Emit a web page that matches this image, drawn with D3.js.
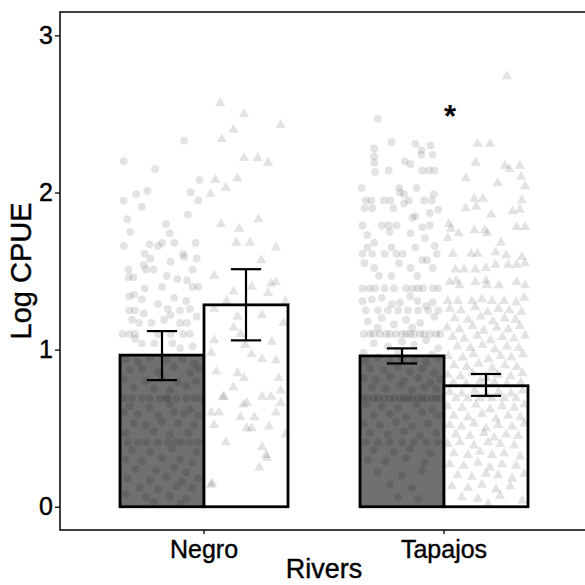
<!DOCTYPE html>
<html>
<head>
<meta charset="utf-8">
<script src="https://cdn.jsdelivr.net/npm/d3@7"></script>
<style>
body { margin: 0; background: #fff; }
svg { display: block; font-family: "Liberation Sans", Arial, sans-serif; }
</style>
</head>
<body>
<div id="chart"></div>
<script>
// rivers on the x axis, two groups per river (circles / dark bar, triangles / white bar)
var rivers = ["Negro", "Tapajos"];
var groups = ["A", "B"];
var barColors = ["#707070", "#ffffff"];
var shapes = [d3.symbolCircle, d3.symbolTriangle];

// mean Log CPUE, then lower / upper end of the error bars (per river, per group)
var means = [[0.965, 1.285], [0.96, 0.77]];
var errLow = [[0.806, 1.059], [0.912, 0.706]];
var errHigh = [[1.118, 1.512], [1.008, 0.845]];

var yTicks = [0, 1, 2, 3];
var star = { river: "Tapajos", value: 2.5, label: "*" };

// raw points: [jitter (-1..1 inside the group slot), Log CPUE]
var negroA = [
  [-.95,2.20],[-.17,2.15],[.55,2.33],[-.95,1.95],[-.64,1.99],[-.36,2.01],[-.5,1.91],[.93,2.08],[.71,2.00],[.9,1.95],
  [.64,1.86],[-.86,1.83],[-.79,1.75],[.1,1.80],[.19,1.74],[-.95,1.66],[-.31,1.67],[-.1,1.66],[0,1.68],[.31,1.68],
  [.83,1.68],[-.43,1.61],[-.29,1.58],[.52,1.61],[.55,1.59],[.21,1.56],[.86,1.58],[-.45,1.54],[-.83,1.51],[-.4,1.51],
  [-.21,1.51],[.76,1.51],[-.83,1.46],[-.71,1.46],[.12,1.47],[.38,1.45],[.62,1.44],[0,1.40],[-.43,1.39],[.76,1.40],
  [.9,1.40],[-.81,1.34],[-.69,1.35],[-.5,1.32],[.3,1.33],[.6,1.31],
  [-.81,1.25],[-.67,1.25],[-.45,1.23],[-.1,1.29],[.14,1.26],[.21,1.22],[.45,1.25],[.69,1.26],[.86,1.21],[-.74,1.19],
  [-.57,1.17],[-.26,1.17],[.05,1.19],[.45,1.17],[.62,1.17],[-.98,1.10],[-.81,1.10],[-.67,1.10],[-.1,1.10],[.21,1.10],
  [.52,1.10],[.69,1.10],[-.5,1.04],[-.19,1.04],[.26,1.04],[.76,1.02],[-.67,1.07],[.45,1.01],
  [-.9,.94],[-.6,.92],[-.3,.95],[.1,.93],[.5,.94],[.8,.91],[-.8,.87],[-.5,.88],[-.1,.86],[.3,.89],[.7,.85],[.9,.88],
  [-.95,.81],[-.4,.80],[0,.82],[.4,.79],[.85,.80],[-.7,.76],[-.2,.75],[.2,.74],[.6,.77],
  [-.95,.69],[-.75,.69],[-.5,.69],[-.3,.69],[-.05,.69],[.1,.69],[.15,.69],[.35,.69],[.6,.69],[.8,.69],[.95,.69],
  [-.8,.64],[-.3,.63],[.2,.65],[.7,.62],[-.95,.60],[-.6,.59],[-.1,.58],[.3,.60],[.55,.59],[.9,.58],
  [-.7,.53],[-.4,.52],[0,.54],[.4,.53],[.8,.52],[-.9,.47],[-.2,.48],[.2,.46],[.65,.47],
  [-.85,.41],[-.6,.41],[-.4,.41],[-.1,.41],[.15,.41],[.35,.41],[.5,.41],[.7,.41],[.9,.41],
  [-.75,.36],[-.3,.35],[.25,.37],[.85,.35],[-.9,.30],[-.5,.29],[0,.31],[.45,.30],[.75,.28],
  [-.65,.24],[-.15,.23],[.3,.25],[.6,.22],[-.85,.18],[-.3,.17],[.1,.19],[.5,.16],[.9,.18],
  [-.55,.12],[-.1,.11],[.35,.13],[.75,.12],[-.9,.08],[-.4,.06],[.2,.07],[.6,.05],[-.2,.03],[.45,.02]
];
var negroB = [
  [-.64,2.57],[-.05,2.50],[.86,2.43],[-.31,2.40],[-.6,2.34],[-.05,2.22],[.29,2.22],[.55,2.19],[-.76,2.08],[-.21,2.09],
  [-.5,2.03],[-.88,1.99],[-.62,1.80],[-.17,1.77],[.31,1.83],[-.24,1.68],[.1,1.68],[.74,1.65],[.38,1.57],[-.79,1.47],
  [.14,1.40],[.62,1.42],[.74,1.43],[-.31,1.37],[.55,1.36],[.98,1.31],[-.48,1.31],[-.79,1.26],[-.21,1.21],[.4,1.22],
  [-.31,1.14],[-.14,1.10],[-.79,1.06],[.64,1.05],[.93,1.17],[-.02,1.03],[.14,.97],[.4,.94],[.74,.93],[-.86,.98],
  [-.74,.86],[-.21,.85],[-.05,.82],[-.31,.76],[.81,.82],[.86,.74],[-.57,.70],[-.55,.70],[.4,.70],[.62,.70],
  [-.07,.65],[.02,.66],[.86,.66],[-.86,.60],[-.67,.60],[-.14,.57],[.21,.57],[.74,.60],[-.79,.52],[.02,.50],
  [.14,.50],[.57,.51],[.98,.46],[-.5,.41],[.4,.38],[.5,.33],[.52,.31],[.33,.25],[-.86,.14],[-.84,.15]
];
var tapajosA = [
  [-.6,2.47],[-.69,2.28],[-.26,2.32],[.33,2.31],[.71,2.30],[.48,2.27],[-.69,2.23],[-.69,2.19],[-.67,2.13],[-.33,2.14],
  [.07,2.20],[.21,2.18],[.48,2.24],[.76,2.24],[.5,2.14],[.67,2.14],[.81,2.14],[-1,2.03],[-.07,2.03],[-.05,2.00],
  [.05,1.99],[.36,2.03],[.79,1.99],[-.9,1.95],[-.76,1.95],[-.45,1.95],[-.29,1.95],[.17,1.95],[.55,1.95],[.74,1.95],
  [-.93,1.90],[-.74,1.90],[-.21,1.90],[.05,1.93],[.69,1.87],[.9,1.89],[.26,1.84],[.33,1.85],[-.98,1.79],[-.5,1.79],
  [-.33,1.79],[-.14,1.79],[.5,1.78],[.69,1.79],[-.86,1.73],[-.31,1.75],[.21,1.74],[.57,1.71],[-.86,1.65],[-.69,1.68],
  [-.26,1.65],[.33,1.65],[.81,1.66],[-.98,1.61],[-.74,1.61],[-.43,1.61],[-.14,1.61],[.02,1.61],[.86,1.61],[.5,1.57],
  [.62,1.57],[-.93,1.55],[-.69,1.52],[-.07,1.55],[.21,1.52],[.76,1.52],[-.57,1.47],[-.26,1.47],[.38,1.47],
  [-.98,1.39],[-.81,1.39],[-.67,1.39],[-.43,1.39],[.1,1.39],[.26,1.39],[.4,1.39],[.52,1.39],[.76,1.39],[-.2,1.39],[.9,1.39],
  [-.98,1.31],[-.05,1.30],[.38,1.31],[.76,1.30],[-.5,1.33],[.2,1.34],
  [-.9,1.25],[-.6,1.25],[-.35,1.25],[-.1,1.25],[.15,1.25],[.4,1.25],[.65,1.25],[.9,1.25],
  [-.95,1.10],[-.8,1.10],[-.7,1.10],[-.55,1.10],[-.4,1.10],[-.3,1.10],[-.15,1.10],[0,1.10],[.1,1.10],[.2,1.10],
  [.3,1.10],[.45,1.10],[.55,1.10],[.7,1.10],[.85,1.10],[.95,1.10],
  [-.85,1.18],[-.5,1.20],[-.2,1.16],[.1,1.19],[.45,1.17],[.8,1.21],[-.7,1.04],[-.35,1.02],[0,1.05],[.3,1.03],
  [.6,1.06],[.9,1.01],[-.95,.98],[-.1,.99],[.75,.97],[-.6,1.14],[.25,1.14],[.6,1.28],[-.25,1.29],[-.75,1.32],
  [-.9,.93],[-.6,.95],[-.3,.92],[0,.94],[.3,.93],[.6,.92],[.9,.95],[-.8,.88],[-.45,.87],[-.1,.89],
  [.2,.86],[.5,.88],[.8,.85],[-.95,.82],[-.65,.81],[-.3,.83],[.05,.80],[.4,.82],[.7,.79],[.95,.81],
  [-.75,.76],[-.4,.75],[-.05,.77],[.25,.74],[.55,.76],[.85,.75],
  [-.98,.69],[-.85,.69],[-.7,.69],[-.6,.69],[-.45,.69],[-.3,.69],[-.2,.69],[-.05,.69],[.05,.69],[.15,.69],
  [.25,.69],[.4,.69],[.5,.69],[.6,.69],[.75,.69],[.85,.69],[.95,.69],
  [-.9,.65],[-.5,.64],[-.1,.63],[.35,.65],[.75,.62],[-.7,.58],[-.3,.59],[.1,.57],[.5,.60],[.9,.58],
  [-.95,.53],[-.55,.52],[-.15,.54],[.25,.51],[.65,.53],[-.8,.47],[-.35,.46],[.05,.48],[.45,.45],[.85,.47],
  [-.9,.41],[-.6,.41],[-.3,.41],[0,.41],[.3,.41],[.6,.41],[.9,.41],
  [-.7,.36],[-.2,.35],[.2,.37],[.7,.34],[-.85,.30],[-.4,.29],[.1,.31],[.55,.28],
  [-.6,.22],[0,.20],[.5,.23],[-.3,.14],[.25,.12],[-.1,.06],[.4,.05]
];
var tapajosB = [
  [.52,2.74],[-.21,2.31],[.1,2.31],[-.26,2.19],[-.5,2.09],[.47,2.17],[.58,2.15],[.84,2.17],[.29,2.06],[.87,2.10],
  [.97,2.04],[-.29,1.96],[-.08,1.96],[-.5,1.90],[-.24,1.91],[.13,1.86],[.66,1.88],[.89,1.95],[.84,1.89],[-.92,1.80],
  [-.87,1.77],[-.68,1.74],[-.29,1.76],[-.03,1.76],[.03,1.74],[.37,1.68],[.76,1.78],[.97,1.78],[-.95,1.71],[-.82,1.61],
  [-.37,1.61],[-.21,1.61],[.24,1.62],[.5,1.60],[.89,1.59],[-.76,1.51],[-.55,1.51],[-.26,1.51],[0,1.52],[.24,1.54],
  [.55,1.54],[.76,1.54],[.97,1.55],[-.9,1.43],[-.74,1.44],[-.66,1.41],[-.26,1.43],[0,1.44],[.02,1.41],[.32,1.41],
  [.76,1.43],[.97,1.41],[-.95,1.31],[-.7,1.31],[-.35,1.31],[-.1,1.32],[.15,1.31],[.45,1.31],[.75,1.30],[.95,1.33],
  [-.9,1.26],[-.62,1.25],[-.27,1.27],[.04,1.24],[.31,1.26],[.58,1.25],[.88,1.24],
  [-.78,1.20],[-.45,1.19],[-.13,1.21],[.17,1.18],[.46,1.20],[.73,1.19],
  [-.96,1.14],[-.66,1.13],[-.33,1.15],[-.06,1.12],[.27,1.14],[.55,1.13],[.84,1.15],
  [-.83,1.08],[-.54,1.07],[-.22,1.09],[.11,1.06],[.41,1.08],[.69,1.07],[.97,1.09],
  [-.71,1.02],[-.38,1.01],[-.09,1.03],[.22,1.00],[.52,1.02],[.81,1.01],
  [-.94,.96],[-.58,.95],[-.31,.97],[.06,.94],[.36,.96],[.63,.95],[.92,.97],
  [-.79,.90],[-.48,.89],[-.18,.91],[.16,.88],[.47,.90],[.76,.89],
  [-.95,.84],[-.63,.83],[-.34,.85],[.01,.82],[.29,.84],[.61,.83],[.9,.85],
  [-.81,.79],[-.49,.78],[-.14,.80],[.21,.79],[.52,.78],[.86,.79],
  [-.9,.73],[-.6,.72],[-.28,.74],[.02,.71],[.31,.73],[.62,.72],[.91,.74],
  [-.75,.69],[-.45,.69],[-.15,.69],[.15,.69],[.45,.69],[.75,.69],
  [-.95,.64],[-.59,.63],[-.25,.65],[.1,.62],[.4,.64],[.7,.63],[.95,.65],
  [-.8,.58],[-.44,.57],[-.1,.59],[.25,.56],[.55,.58],[.85,.57],
  [-.9,.52],[-.61,.51],[-.3,.53],[0,.50],[.3,.52],[.65,.51],[.95,.53],
  [-.75,.46],[-.4,.45],[-.05,.47],[.2,.44],[.5,.46],[.8,.45],
  [-.95,.40],[-.65,.41],[-.3,.39],[.05,.41],[.35,.40],[.7,.39],
  [-.8,.34],[-.45,.33],[-.15,.35],[.15,.33],[.45,.34],[.85,.32],
  [-.9,.27],[-.55,.26],[-.2,.28],[.1,.25],[.4,.27],[.75,.26],
  [-.7,.20],[-.35,.19],[0,.21],[.3,.20],[.65,.18],[.95,.21],
  [-.85,.13],[-.45,.12],[-.1,.14],[.25,.11],[.6,.13],
  [-.6,.06],[-.2,.05],[.35,.07],[.9,.04],[.05,.02]
];
var points = [[negroA, negroB], [tapajosA, tapajosB]];

var width = 585, height = 585;
var margin = { top: 12, right: -3, bottom: 55, left: 60 };

var svg = d3.select("#chart").append("svg")
    .attr("width", width)
    .attr("height", height);

var x = d3.scaleBand()
    .domain(rivers)
    .range([margin.left, width - margin.right])
    .paddingInner(0)
    .paddingOuter(0.1);

var sub = d3.scaleBand()
    .domain(groups)
    .range([x.bandwidth() * 0.15, x.bandwidth() * 0.85]);

var y = d3.scaleLinear()
    .domain([-0.148, 3.149])
    .range([height - margin.bottom, margin.top]);

// build one row per river/group
var rows = [];
rivers.forEach(function(r, i) {
    groups.forEach(function(g, k) {
        rows.push({ river: r, group: g, k: k, mean: means[i][k], lo: errLow[i][k], hi: errHigh[i][k], pts: points[i][k] });
    });
});

function slotCenter(d) { return x(d.river) + sub(d.group) + sub.bandwidth() / 2; }

// bars
svg.append("g").selectAll("rect")
    .data(rows)
    .enter().append("rect")
    .attr("x", function(d) { return x(d.river) + sub(d.group); })
    .attr("y", function(d) { return y(d.mean); })
    .attr("width", sub.bandwidth())
    .attr("height", function(d) { return y(0) - y(d.mean); })
    .attr("fill", function(d) { return barColors[d.k]; })
    .attr("stroke", "#000")
    .attr("stroke-width", 2.8);

// jittered raw points
rows.forEach(function(d) {
    var sym = d3.symbol().type(shapes[d.k]).size(d.k === 0 ? 48 : 46);
    svg.append("g").selectAll("path")
        .data(d.pts)
        .enter().append("path")
        .attr("d", sym)
        .attr("transform", function(p) {
            var cx = slotCenter(d) + p[0] * sub.bandwidth() * 0.48;
            return "translate(" + cx + "," + y(p[1]) + ")";
        })
        .attr("fill", "#000")
        .attr("fill-opacity", 0.11);
});

// error bars
var cap = sub.bandwidth() * 0.18;
var eb = svg.append("g").attr("stroke", "#000").attr("stroke-width", 2.2);
rows.forEach(function(d) {
    var cx = slotCenter(d);
    eb.append("line").attr("x1", cx).attr("x2", cx).attr("y1", y(d.lo)).attr("y2", y(d.hi));
    eb.append("line").attr("x1", cx - cap).attr("x2", cx + cap).attr("y1", y(d.lo)).attr("y2", y(d.lo));
    eb.append("line").attr("x1", cx - cap).attr("x2", cx + cap).attr("y1", y(d.hi)).attr("y2", y(d.hi));
});

// significance mark
svg.append("text")
    .attr("x", x(star.river) + x.bandwidth() / 2 + 6)
    .attr("y", y(star.value) + 13)
    .attr("text-anchor", "middle")
    .style("font-size", "31px")
    .style("font-weight", "bold")
    .text(star.label);

// panel border
svg.append("rect")
    .attr("x", margin.left)
    .attr("y", margin.top)
    .attr("width", width - margin.right - margin.left)
    .attr("height", y.range()[0] - margin.top)
    .attr("fill", "none")
    .attr("stroke", "#000")
    .attr("stroke-width", 1.5);

// axes
var yAxis = svg.append("g")
    .attr("transform", "translate(" + margin.left + ",0)")
    .call(d3.axisLeft(y).tickValues(yTicks).tickSize(5).tickPadding(2).tickFormat(d3.format("d")));
var xAxis = svg.append("g")
    .attr("transform", "translate(0," + y.range()[0] + ")")
    .call(d3.axisBottom(x).tickSize(4).tickPadding(6));
[yAxis, xAxis].forEach(function(a) {
    a.select(".domain").remove();
    a.selectAll("line").attr("stroke", "#000").attr("stroke-width", 1.3);
    a.selectAll("text").attr("fill", "#000").attr("stroke", "#000").attr("stroke-width", 0.4)
        .style("font-size", "25px")
        .style("font-family", "'Liberation Sans', Arial, sans-serif");
});

// axis titles
svg.append("text")
    .attr("x", (margin.left + width - margin.right) / 2)
    .attr("y", 578)
    .attr("text-anchor", "middle")
    .attr("stroke", "#000").attr("stroke-width", 0.4)
    .style("font-size", "27px")
    .text("Rivers");

svg.append("text")
    .attr("transform", "translate(31," + (margin.top + y.range()[0]) / 2 + ") rotate(-90)")
    .attr("text-anchor", "middle")
    .attr("stroke", "#000").attr("stroke-width", 0.4)
    .style("font-size", "29px")
    .text("Log CPUE");
</script>
</body>
</html>
